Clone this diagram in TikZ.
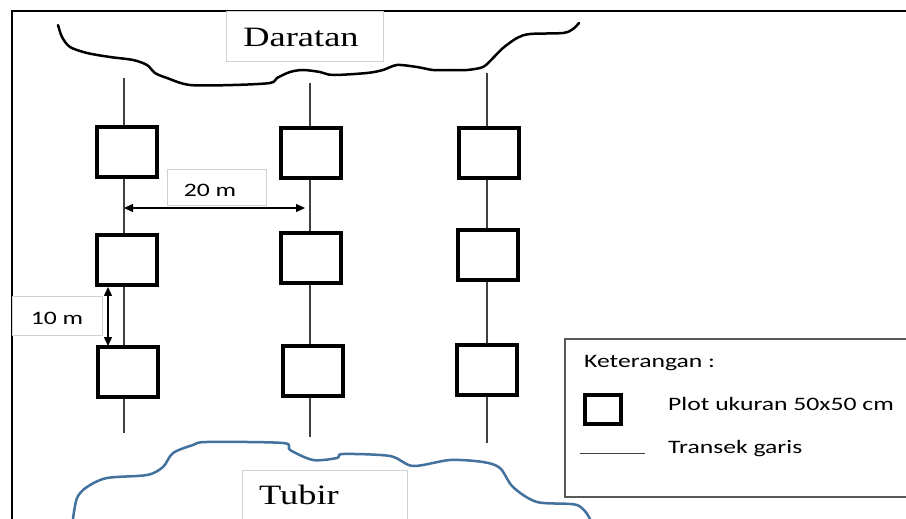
\documentclass[tikz,border=0pt]{standalone}
\usepackage{fontspec}
\usetikzlibrary{arrows.meta}
\newfontfamily\landfont[FakeStretch=1.3]{Liberation Serif}
\newfontfamily\notefont[FakeStretch=1.35]{Carlito}
\definecolor{shoreblue}{HTML}{41719C}
\tikzset{
  frame/.style={line width=2bp, black},
  plotbox/.style={draw, line width=3.5bp, fill=white, minimum width=60bp, minimum height=50bp, inner sep=0pt},
  transect/.style={line width=1.3bp, black!75},
  labelbox/.style={draw=black!18, line width=0.7bp, fill=white},
  dimline/.style={line width=1.4bp, {Triangle[length=9bp,width=8bp]}-{Triangle[length=9bp,width=8bp]}},
  bigtext/.style={font=\landfont\fontsize{28bp}{30bp}\selectfont, anchor=base, inner sep=0pt},
  smalltext/.style={font=\notefont\fontsize{19bp}{21bp}\selectfont, inner sep=0pt},
  shore/.style={line width=2.5bp, line cap=round, line join=round},
}
\begin{document}
\begin{tikzpicture}[x=1bp,y=-1bp]
\useasboundingbox (0,0) rectangle (906,519);
\fill[white] (0,0) rectangle (906,519);

% outer frame (left and top edges)
\draw[frame] (12,530) -- (12,11) -- (920,11);

% label boxes
\draw[labelbox] (226,11) rectangle (383,61);
\draw[labelbox] (167,169) rectangle (266,205);
\draw[labelbox] (12,296) rectangle (102,335);
\draw[labelbox] (242,470) rectangle (407,530);

% coastline on the land side
\draw[shore, black] plot[smooth, tension=0.5] coordinates {
  (58,25) (62,37) (70,47) (87,53) (110,57) (133,60) (147,65) (155,73)
  (167,78) (190,85) (233,85) (270,83) (277,78) (290,72) (303,70) (320,72)
  (333,75) (367,73) (383,70) (397,65) (417,67) (433,70) (450,70) (467,70)
  (483,67) (493,58) (503,48) (517,38) (530,34) (563,33) (573,29) (579,23)};

% reef edge (tubir)
\draw[shore, shoreblue] plot[smooth, tension=0.5] coordinates {
  (73,519) (77,498) (87,487) (107,478) (147,475) (163,467) (173,453)
  (193,445) (207,442) (283,443) (290,450) (313,460) (337,458) (343,454)
  (390,456) (413,466) (450,460) (483,462) (500,468) (513,487) (537,502)
  (577,505) (590,519)};

% transect ends
\coordinate (t1) at (124,78);  \coordinate (b1) at (124,433);
\coordinate (t2) at (310,83);  \coordinate (b2) at (310,437);
\coordinate (t3) at (487,73);  \coordinate (b3) at (487,443);

% line transects
\draw[transect] (t1) -- (b1);
\draw[transect] (t2) -- (b2);
\draw[transect] (t3) -- (b3);

% sampling plots
\node[plotbox] (p11) at (127,152) {};
\node[plotbox] (p12) at (127,260) {};
\node[plotbox] (p13) at (128,372) {};
\node[plotbox] (p21) at (311,153) {};
\node[plotbox] (p22) at (311,258) {};
\node[plotbox] (p23) at (313,371) {};
\node[plotbox] (p31) at (489,153) {};
\node[plotbox] (p32) at (488,255) {};
\node[plotbox] (p33) at (487,370) {};

% distance between transects
\coordinate (d1) at (124,208);
\coordinate (d2) at (305,208);
\draw[dimline] (d1) -- (d2);

% distance between plots
\coordinate (v1) at (108,287);
\coordinate (v2) at (108,346);
\draw[dimline] (v1) -- (v2);

% texts
\node[bigtext] (land) at (301,47) {Daratan};
\node[bigtext] (reef) at (299,504) {Tubir};
\node[smalltext, anchor=base] (w20) at (210,197) {20 m};
\node[smalltext, anchor=base] (h10) at (57,325) {10 m};

% legend
\draw[line width=1.5bp, black!65] (565,339) rectangle (930,497);
\node[smalltext, anchor=base west] (legtitle) at (584,367) {Keterangan :};
\node[draw, line width=3.5bp, minimum width=36bp, minimum height=29bp, inner sep=0pt] (legplot) at (603,409.5) {};
\node[smalltext, anchor=base west] (legplottext) at (668,410) {Plot ukuran 50x50 cm};
\coordinate (la) at (580,453);
\coordinate (lb) at (645,453);
\draw[line width=1bp, black!75] (la) -- (lb);
\node[smalltext, anchor=base west] (legline) at (668,453) {Transek garis};
\end{tikzpicture}
\end{document}
